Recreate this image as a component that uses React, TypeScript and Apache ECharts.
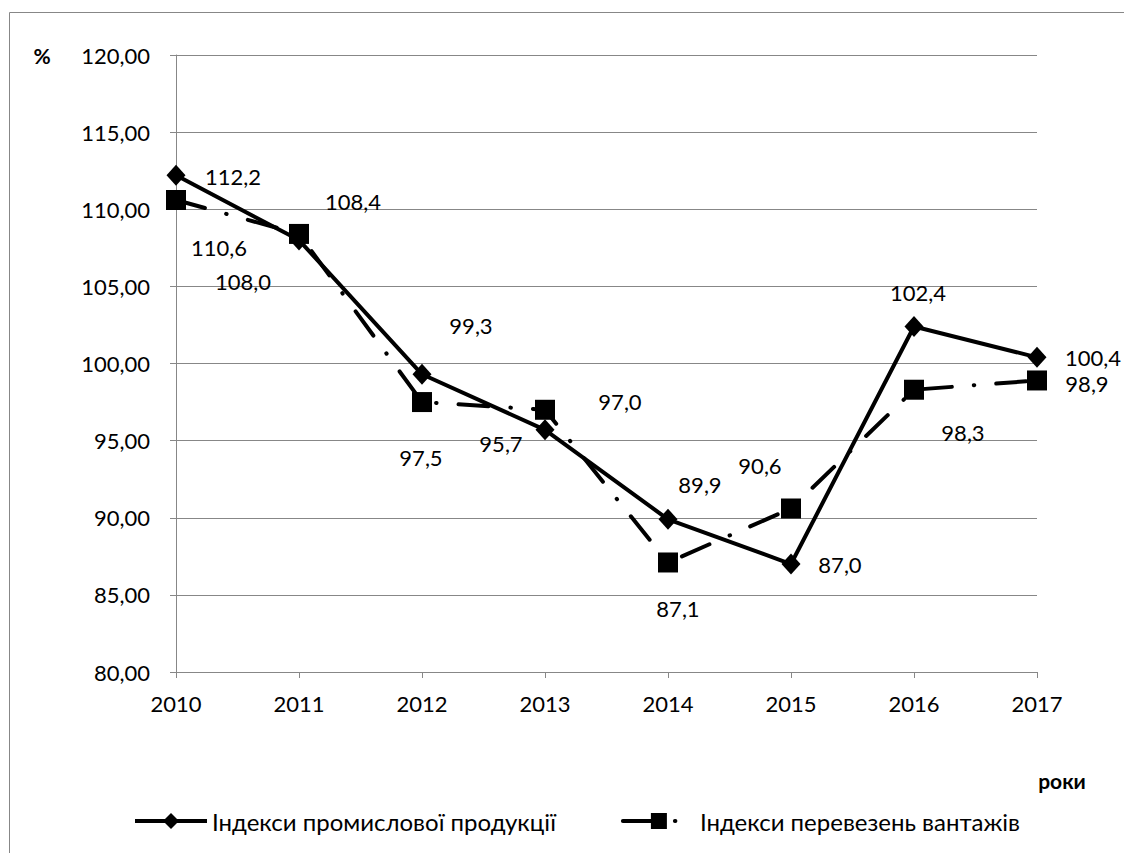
import React, { useEffect, useRef } from "react";
import * as echarts from "echarts";

const years = ["2010", "2011", "2012", "2013", "2014", "2015", "2016", "2017"];
const industrial = [112.2, 108.0, 99.3, 95.7, 89.9, 87.0, 102.4, 100.4];
const freight = [110.6, 108.4, 97.5, 97.0, 87.1, 90.6, 98.3, 98.9];
const industrialLabelOffsets = [
  [57, 1], [-56, 41], [49, -49], [-44, 14], [32, -35], [49, 0], [4, -34], [56, 0],
];
const freightLabelOffsets = [
  [43, 48], [54, -32], [-1, 55], [75, -8], [10, 46], [-31, -43], [49, 43], [50, 3],
];
const seriesNames = ["Індекси промислової продукції", "Індекси перевезень вантажів"];

const FONT = "Lato, 'Noto Sans', sans-serif";
const GRAY = "#878787";

const fmt = (v: number) => v.toFixed(1).replace(".", ",");

export default function App() {
  const ref = useRef<HTMLDivElement>(null);
  useEffect(() => {
    if (!ref.current) return;
    const chart = echarts.init(ref.current, null, { renderer: "svg" });
    const mk = (vals: number[], offs: number[][]) =>
      vals.map((v, i) => ({ value: v, label: { offset: offs[i] } }));
    const labelBase = {
      show: true,
      position: "inside",
      color: "#000",
      fontSize: 22,
      lineHeight: 22,
      fontFamily: FONT,
      formatter: (p: any) => fmt(p.value),
    };
    chart.setOption({
      animation: false,
      backgroundColor: "#fff",
      textStyle: { fontFamily: FONT },
      grid: { left: 176, right: 87, top: 55, bottom: 181, containLabel: false },
      legend: {
        left: 128,
        top: 804,
        itemWidth: 72,
        itemHeight: 20,
        itemGap: 65,
        itemStyle: { color: "#000" },
        lineStyle: { width: 4, color: "#000" },
        textStyle: { fontSize: 24, color: "#000", fontFamily: FONT },
        data: seriesNames,
      },
      xAxis: {
        type: "category",
        data: years,
        boundaryGap: false,
        axisLine: { lineStyle: { color: GRAY, width: 1 } },
        axisTick: { show: true, length: 6, lineStyle: { color: GRAY } },
        axisLabel: { color: "#000", fontSize: 22, fontFamily: FONT, margin: 20 },
        splitLine: { show: false },
      },
      yAxis: {
        type: "value",
        min: 80,
        max: 120,
        interval: 5,
        axisLine: { show: true, lineStyle: { color: GRAY, width: 1 } },
        axisTick: { show: true, length: 6, lineStyle: { color: GRAY } },
        axisLabel: {
          color: "#000",
          fontSize: 22,
          fontFamily: FONT,
          margin: 26,
          formatter: (v: number) => v.toFixed(2).replace(".", ","),
        },
        splitLine: { show: true, lineStyle: { color: GRAY, width: 1 } },
      },
      graphic: [
        {
          type: "rect",
          shape: { x: 9.5, y: 12.5, width: 1300, height: 1000 },
          style: { fill: "none", stroke: GRAY, lineWidth: 1 },
          silent: true,
        },
        {
          type: "text",
          x: 42,
          y: 55,
          style: {
            text: "%",
            font: `bold 21px ${FONT}`,
            fill: "#000",
            align: "center",
            verticalAlign: "middle",
          },
        },
        {
          type: "text",
          x: 1062,
          y: 780,
          style: {
            text: "роки",
            font: `bold 21px ${FONT}`,
            fill: "#000",
            align: "center",
            verticalAlign: "middle",
          },
        },
      ],
      series: [
        {
          name: seriesNames[0],
          type: "line",
          data: mk(industrial, industrialLabelOffsets),
          symbol: "diamond",
          symbolSize: [19, 21],
          itemStyle: { color: "#000" },
          lineStyle: { color: "#000", width: 4 },
          label: labelBase,
        },
        {
          name: seriesNames[1],
          type: "line",
          data: mk(freight, freightLabelOffsets),
          symbol: "rect",
          symbolSize: 20,
          itemStyle: { color: "#000" },
          lineStyle: { color: "#000", width: 4, type: [30, 22, 0.5, 22], cap: "round" },
          label: labelBase,
        },
      ],
    });
    return () => chart.dispose();
  }, []);
  return (
    <div
      ref={ref}
      style={{ position: "absolute", left: 0, top: 0, width: 1124, height: 853 }}
    />
  );
}
